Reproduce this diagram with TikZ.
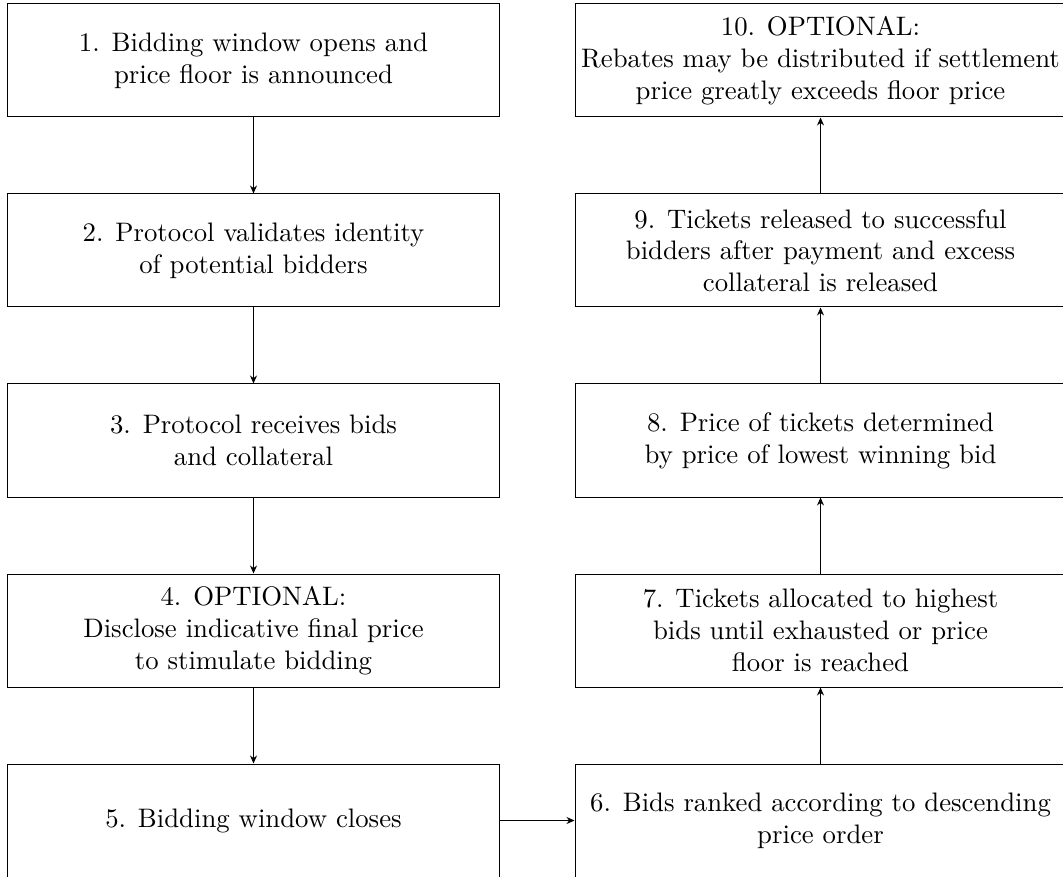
\documentclass[tikz,border=0pt]{standalone}
\usetikzlibrary{arrows.meta}
\begin{document}
\begin{tikzpicture}[x=0.4pt,y=-0.4pt,
  stepbox/.style={draw, rectangle, minimum width=196.4pt, minimum height=45.2pt, align=center, inner sep=0pt, font=\fontsize{10.7pt}{12.7pt}\selectfont},
  flow/.style={-{Stealth[length=3.2pt,width=2.8pt]}, line width=0.4pt}]
\useasboundingbox (0,0) rectangle (1063,877);
\clip (0,0) rectangle (1063,876.3);
\node[stepbox] (b1) at (253.5,60.5) {1. Bidding window opens and\\ price floor is announced};
\node[stepbox] (b2) at (253.5,250.5) {2. Protocol validates identity\\ of potential bidders};
\node[stepbox] (b3) at (253.5,440.5) {3. Protocol receives bids\\ and collateral};
\node[stepbox] (b4) at (253.5,630.5) {4. OPTIONAL:\\ Disclose indicative final price\\ to stimulate bidding};
\node[stepbox] (b5) at (253.5,820.5) {5. Bidding window closes};
\node[stepbox] (b6) at (820.5,820.5) {6. Bids ranked according to descending\\ price order};
\node[stepbox] (b7) at (820.5,630.5) {7. Tickets allocated to highest\\ bids until exhausted or price\\ floor is reached};
\node[stepbox] (b8) at (820.5,440.5) {8. Price of tickets determined\\ by price of lowest winning bid};
\node[stepbox] (b9) at (820.5,250.5) {9. Tickets released to successful\\ bidders after payment and excess\\ collateral is released};
\node[stepbox] (b10) at (820.5,60.5) {10. OPTIONAL:\\ Rebates may be distributed if settlement\\ price greatly exceeds floor price};
\draw[flow] (b1) -- (b2);
\draw[flow] (b2) -- (b3);
\draw[flow] (b3) -- (b4);
\draw[flow] (b4) -- (b5);
\draw[flow] (b5) -- (b6);
\draw[flow] (b6) -- (b7);
\draw[flow] (b7) -- (b8);
\draw[flow] (b8) -- (b9);
\draw[flow] (b9) -- (b10);
\end{tikzpicture}
\end{document}
